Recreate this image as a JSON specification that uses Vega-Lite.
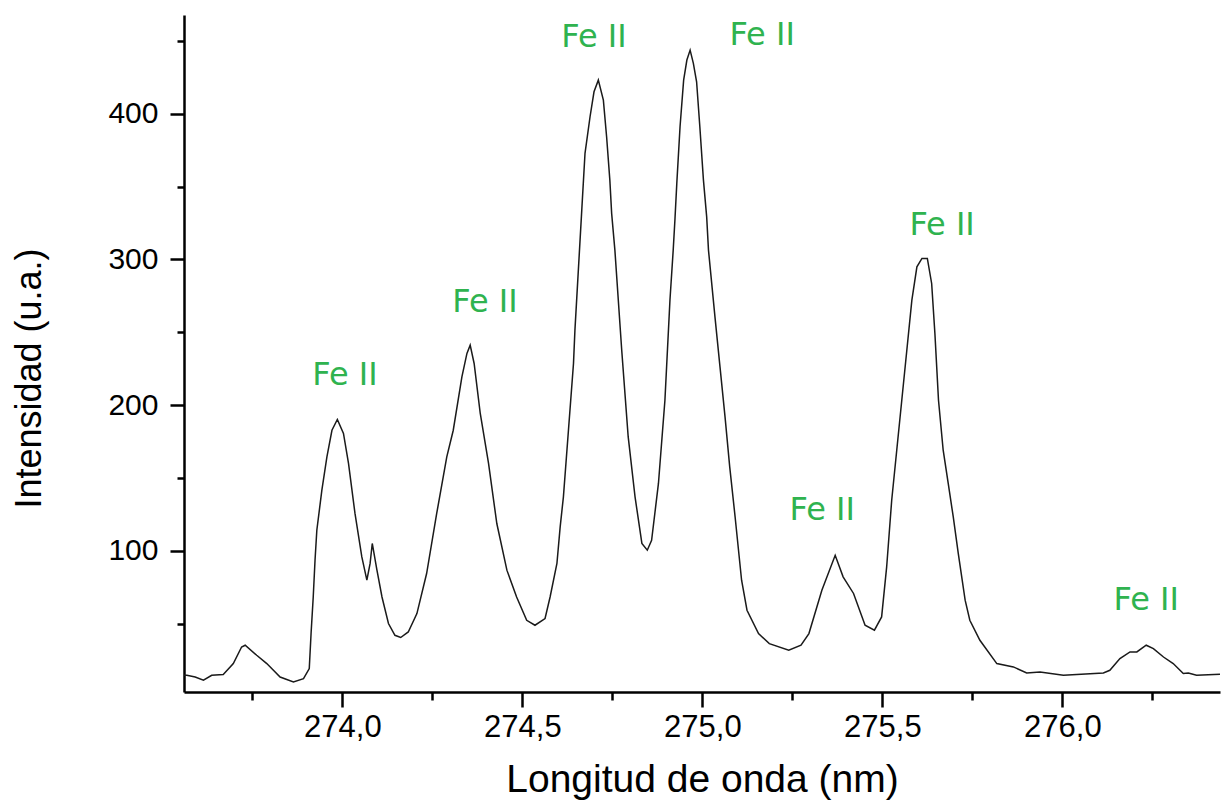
{
  "$schema": "https://vega.github.io/schema/vega-lite/v6.json",
  "autosize": {"type": "none"},
  "padding": {"left": 184, "top": 15, "right": 4, "bottom": 113},
  "width": 1036,
  "height": 677,
  "background": "white",
  "config": {
    "view": {"stroke": null},
    "axis": {"grid": false, "domainColor": "#000", "tickColor": "#000", "labelColor": "#000", "titleColor": "#000"}
  },
  "datasets": {
    "spectrum": [
      {"nm": 273.560, "i": 14.7}, {"nm": 273.568, "i": 14.7}, {"nm": 273.591, "i": 13.5}, {"nm": 273.614, "i": 11.3},
      {"nm": 273.637, "i": 14.7}, {"nm": 273.669, "i": 15.2}, {"nm": 273.697, "i": 22.7}, {"nm": 273.720, "i": 34.1},
      {"nm": 273.730, "i": 35.3}, {"nm": 273.762, "i": 28.4}, {"nm": 273.790, "i": 22.7}, {"nm": 273.827, "i": 13.5},
      {"nm": 273.864, "i": 10.1}, {"nm": 273.892, "i": 12.4}, {"nm": 273.908, "i": 19.3}, {"nm": 273.913, "i": 43.3},
      {"nm": 273.919, "i": 68.4}, {"nm": 273.924, "i": 93.6}, {"nm": 273.929, "i": 114.2}, {"nm": 273.943, "i": 141.7},
      {"nm": 273.957, "i": 164.5}, {"nm": 273.971, "i": 182.8}, {"nm": 273.986, "i": 190.2}, {"nm": 274.003, "i": 180.6},
      {"nm": 274.017, "i": 160.0}, {"nm": 274.035, "i": 125.7}, {"nm": 274.054, "i": 95.9}, {"nm": 274.068, "i": 79.9},
      {"nm": 274.077, "i": 91.4}, {"nm": 274.083, "i": 105.1}, {"nm": 274.096, "i": 86.8}, {"nm": 274.110, "i": 68.4},
      {"nm": 274.128, "i": 50.2}, {"nm": 274.146, "i": 42.1}, {"nm": 274.162, "i": 40.6}, {"nm": 274.183, "i": 44.4},
      {"nm": 274.207, "i": 57.0}, {"nm": 274.234, "i": 84.5}, {"nm": 274.262, "i": 125.7}, {"nm": 274.290, "i": 164.5},
      {"nm": 274.308, "i": 182.8}, {"nm": 274.332, "i": 219.4}, {"nm": 274.346, "i": 235.5}, {"nm": 274.355, "i": 241.2},
      {"nm": 274.366, "i": 228.6}, {"nm": 274.383, "i": 194.3}, {"nm": 274.406, "i": 160.0}, {"nm": 274.429, "i": 118.8},
      {"nm": 274.457, "i": 86.8}, {"nm": 274.484, "i": 68.4}, {"nm": 274.512, "i": 52.4}, {"nm": 274.535, "i": 49.0},
      {"nm": 274.563, "i": 53.6}, {"nm": 274.577, "i": 68.4}, {"nm": 274.596, "i": 91.4}, {"nm": 274.605, "i": 116.5},
      {"nm": 274.614, "i": 137.1}, {"nm": 274.628, "i": 182.8}, {"nm": 274.642, "i": 228.6}, {"nm": 274.646, "i": 251.5},
      {"nm": 274.665, "i": 333.8}, {"nm": 274.674, "i": 372.8}, {"nm": 274.688, "i": 397.9}, {"nm": 274.699, "i": 415.0},
      {"nm": 274.711, "i": 423.0}, {"nm": 274.725, "i": 409.3}, {"nm": 274.734, "i": 384.2}, {"nm": 274.743, "i": 354.4},
      {"nm": 274.748, "i": 331.6}, {"nm": 274.757, "i": 306.4}, {"nm": 274.776, "i": 237.7}, {"nm": 274.794, "i": 178.2},
      {"nm": 274.813, "i": 137.1}, {"nm": 274.832, "i": 105.1}, {"nm": 274.847, "i": 100.5}, {"nm": 274.859, "i": 107.3},
      {"nm": 274.878, "i": 146.3}, {"nm": 274.896, "i": 203.4}, {"nm": 274.910, "i": 272.1}, {"nm": 274.919, "i": 306.4},
      {"nm": 274.924, "i": 328.1}, {"nm": 274.929, "i": 352.2}, {"nm": 274.938, "i": 391.0}, {"nm": 274.948, "i": 423.0},
      {"nm": 274.957, "i": 436.8}, {"nm": 274.966, "i": 443.6}, {"nm": 274.975, "i": 434.5}, {"nm": 274.984, "i": 421.9},
      {"nm": 274.993, "i": 391.0}, {"nm": 275.003, "i": 354.4}, {"nm": 275.012, "i": 329.2}, {"nm": 275.017, "i": 306.4},
      {"nm": 275.035, "i": 260.6}, {"nm": 275.049, "i": 226.3}, {"nm": 275.063, "i": 192.0}, {"nm": 275.076, "i": 157.7},
      {"nm": 275.091, "i": 123.3}, {"nm": 275.109, "i": 79.9}, {"nm": 275.124, "i": 59.3}, {"nm": 275.156, "i": 43.3},
      {"nm": 275.186, "i": 36.4}, {"nm": 275.240, "i": 31.8}, {"nm": 275.274, "i": 35.3}, {"nm": 275.296, "i": 43.3},
      {"nm": 275.332, "i": 73.0}, {"nm": 275.369, "i": 97.0}, {"nm": 275.391, "i": 82.2}, {"nm": 275.420, "i": 70.8},
      {"nm": 275.452, "i": 49.0}, {"nm": 275.478, "i": 45.6}, {"nm": 275.498, "i": 54.7}, {"nm": 275.512, "i": 89.0},
      {"nm": 275.526, "i": 134.8}, {"nm": 275.540, "i": 169.1}, {"nm": 275.554, "i": 203.4}, {"nm": 275.568, "i": 237.7},
      {"nm": 275.582, "i": 272.1}, {"nm": 275.596, "i": 294.9}, {"nm": 275.610, "i": 300.7}, {"nm": 275.625, "i": 300.7},
      {"nm": 275.637, "i": 283.5}, {"nm": 275.646, "i": 249.2}, {"nm": 275.656, "i": 203.4}, {"nm": 275.669, "i": 169.1},
      {"nm": 275.683, "i": 146.3}, {"nm": 275.697, "i": 123.3}, {"nm": 275.711, "i": 98.2}, {"nm": 275.730, "i": 66.2},
      {"nm": 275.743, "i": 52.4}, {"nm": 275.771, "i": 38.7}, {"nm": 275.818, "i": 22.7}, {"nm": 275.864, "i": 20.4},
      {"nm": 275.901, "i": 16.3}, {"nm": 275.938, "i": 17.0}, {"nm": 276.003, "i": 14.7}, {"nm": 276.114, "i": 16.3},
      {"nm": 276.132, "i": 18.1}, {"nm": 276.160, "i": 26.1}, {"nm": 276.188, "i": 30.7}, {"nm": 276.207, "i": 30.7},
      {"nm": 276.233, "i": 35.3}, {"nm": 276.253, "i": 33.0}, {"nm": 276.281, "i": 27.2}, {"nm": 276.308, "i": 22.7},
      {"nm": 276.336, "i": 15.9}, {"nm": 276.350, "i": 16.3}, {"nm": 276.373, "i": 14.7}, {"nm": 276.438, "i": 15.4}
    ],
    "lines": [
      {"nm": 274.007, "i": 220.6, "label": "Fe II"},
      {"nm": 274.396, "i": 270.7, "label": "Fe II"},
      {"nm": 274.699, "i": 452.6, "label": "Fe II"},
      {"nm": 275.166, "i": 454.0, "label": "Fe II"},
      {"nm": 275.333, "i": 128.0, "label": "Fe II"},
      {"nm": 275.666, "i": 323.6, "label": "Fe II"},
      {"nm": 276.233, "i": 66.2, "label": "Fe II"}
    ]
  },
  "layer": [
    {
      "data": {"name": "spectrum"},
      "mark": {"type": "line", "color": "#1a1a1a", "strokeWidth": 1.5, "clip": true},
      "encoding": {
        "x": {
          "field": "nm", "type": "quantitative",
          "scale": {"domain": [273.56, 276.438], "nice": false, "zero": false},
          "axis": {
            "title": "Longitud de onda (nm)",
            "values": [273.75, 274.0, 274.25, 274.5, 274.75, 275.0, 275.25, 275.5, 275.75, 276.0, 276.25],
            "labelExpr": "abs(datum.value * 2 - round(datum.value * 2)) < 0.01 ? replace(format(datum.value, '.1f'), '.', ',') : ''",
            "tickSize": {"condition": {"test": "abs(datum.value * 2 - round(datum.value * 2)) < 0.01", "value": 15}, "value": 8},
            "tickWidth": 2.5,
            "domainWidth": 2.5,
            "labelFont": "Liberation Sans",
            "labelFontSize": 31,
            "labelPadding": 5,
            "labelFlush": false,
            "titleFont": "Liberation Sans",
            "titleFontSize": 39,
            "titleFontWeight": "normal",
            "titleBaseline": "middle",
            "titleY": 87
          }
        },
        "y": {
          "field": "i", "type": "quantitative",
          "scale": {"domain": [3.2, 467.7], "nice": false, "zero": false},
          "axis": {
            "title": "Intensidad (u.a.)",
            "values": [50, 100, 150, 200, 250, 300, 350, 400, 450],
            "labelExpr": "datum.value % 100 == 0 ? format(datum.value, 'd') : ''",
            "tickSize": {"condition": {"test": "datum.value % 100 == 0", "value": 14}, "value": 7},
            "tickWidth": 2.5,
            "domainWidth": 2.5,
            "labelFont": "Liberation Sans",
            "labelFontSize": 30,
            "labelPadding": 12,
            "labelFlush": false,
            "titleFont": "Liberation Sans",
            "titleFontSize": 36,
            "titleFontWeight": "normal",
            "titleBaseline": "middle",
            "titleAlign": "center",
            "titleX": -155,
            "titleY": 363
          }
        }
      }
    },
    {
      "data": {"name": "lines"},
      "mark": {"type": "text", "color": "#2fb34f", "font": "DejaVu Sans", "fontSize": 32, "baseline": "middle", "align": "center"},
      "encoding": {
        "x": {"field": "nm", "type": "quantitative"},
        "y": {"field": "i", "type": "quantitative"},
        "text": {"field": "label"}
      }
    }
  ]
}
